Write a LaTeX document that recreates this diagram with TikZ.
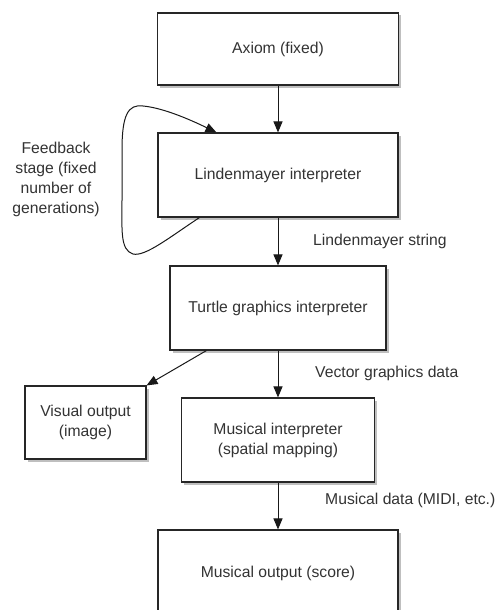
\documentclass[tikz,border=0pt]{standalone}
\usepackage{fontspec}
\setmainfont{Liberation Sans}
\usetikzlibrary{arrows.meta,shadows,calc}
\begin{document}
\begin{tikzpicture}[x=1pt,y=-1pt,
  box/.style={draw=black!85, line width=1.1pt, fill=white, rectangle, inner sep=0pt,
    align=center, text=black!80, font=\fontsize{15.7}{20}\selectfont,
    drop shadow={shadow xshift=2.5pt, shadow yshift=-2.5pt, fill=black, opacity=0.25}},
  lbl/.style={text=black!80, font=\fontsize{15.7}{20}\selectfont, inner sep=0pt},
  conn/.style={draw=black!90, line width=1pt, -{Triangle[length=11pt,width=9pt]}}]
\useasboundingbox (0,0) rectangle (499,610);
\clip (0,0) rectangle (499,610);
\fill[white] (0,0) rectangle (499,610);
\node[box, minimum width=241pt, minimum height=72pt] (axiom) at (278,49) {Axiom (fixed)};
\node[box, minimum width=240pt, minimum height=84pt] (lind) at (278,175) {Lindenmayer interpreter};
\node[box, minimum width=216pt, minimum height=84pt] (turtle) at (278,308) {Turtle graphics interpreter};
\node[box, minimum width=121pt, minimum height=73pt] (visual) at (85.5,422.5) {Visual output\\(image)};
\node[box, minimum width=193pt, minimum height=84pt] (musint) at (278,440) {Musical interpreter\\(spatial mapping)};
\node[box, minimum width=240pt, minimum height=86pt] (musout) at (278,573) {Musical output (score)};

\node[lbl, align=center] (fb) at (56,179.5) {Feedback\\stage (fixed\\number of\\generations)};
\node[lbl, anchor=west] (ls) at (313,241.5) {Lindenmayer string};
\node[lbl, anchor=west] (vg) at (315,373) {Vector graphics data};
\node[lbl, anchor=west] (md) at (325,500) {Musical data (MIDI, etc.)};

\coordinate (fbs) at ($(lind.south west)+(42,0)$);
\coordinate (fbe) at ($(lind.north west)+(59,0)$);
\coordinate (ts) at ($(turtle.south west)+(37,0)$);

\draw[conn] (axiom) -- (lind);
\draw[conn] (lind) -- (turtle);
\draw[conn] (turtle) -- (musint);
\draw[conn] (musint) -- (musout);
\draw[conn] (ts) -- (visual.north east);
\draw[conn] (fbs) .. controls (170,237) and (145,257) .. (133,254)
  .. controls (120,250) and (122,230) .. (122,200)
  -- (122,150)
  .. controls (122,115) and (128,104) .. (143,106)
  .. controls (165,108) and (195,122) .. (fbe);
\end{tikzpicture}
\end{document}
